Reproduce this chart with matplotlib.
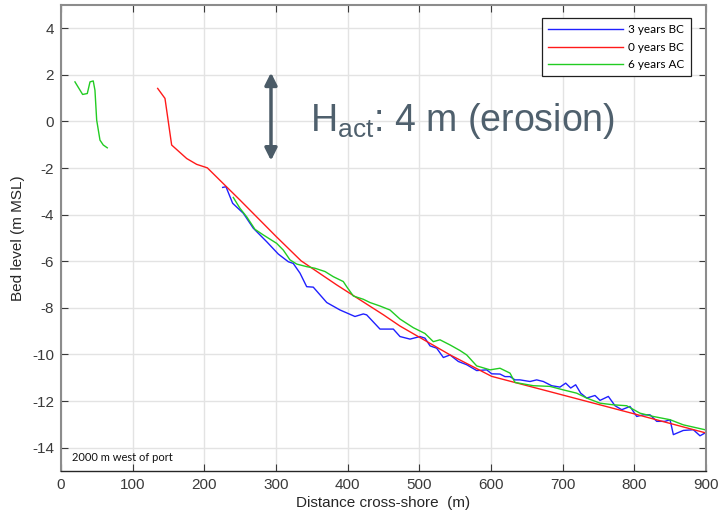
import matplotlib
matplotlib.use("Agg")
import matplotlib.pyplot as plt

plt.rcParams["axes.unicode_minus"] = False

# profile 3 years before construction
bc3_x = [225.6, 230.2, 239.5, 254.4, 268.3, 287.0, 303.2, 317.2, 324.0, 333.5,
         342.8, 352.0, 370.8, 389.3, 410.2, 421.8, 426.5, 445.1, 463.7, 473.0,
         487.0, 500.9, 507.9, 514.9, 524.2, 533.5, 542.8, 554.4, 566.1, 580.0,
         594.0, 601.0, 612.5, 619.5, 626.5, 633.5, 640.4, 654.4, 663.7, 673.0,
         684.6, 696.2, 704.2, 711.2, 718.1, 725.1, 733.5, 745.1, 752.1, 763.7,
         773.0, 782.4, 793.9, 803.3, 812.5, 821.9, 831.2, 842.8, 849.8, 854.4,
         868.3, 882.3, 891.6, 898.6]
bc3_z = [-2.83, -2.80, -3.51, -3.94, -4.58, -5.16, -5.69, -6.02, -6.09, -6.51,
         -7.09, -7.11, -7.77, -8.09, -8.37, -8.26, -8.30, -8.91, -8.91, -9.23,
         -9.34, -9.23, -9.30, -9.63, -9.73, -10.13, -10.02, -10.30, -10.44, -10.69,
         -10.66, -10.83, -10.84, -10.95, -10.95, -11.09, -11.09, -11.16, -11.09, -11.16,
         -11.34, -11.40, -11.23, -11.44, -11.30, -11.66, -11.87, -11.76, -11.97, -11.80,
         -12.20, -12.37, -12.23, -12.66, -12.59, -12.59, -12.87, -12.87, -12.80, -13.44,
         -13.26, -13.23, -13.49, -13.37]

# profile at construction
bc0_x = [134.9, 145.1, 154.4, 175.4, 189.3, 204.2, 250.0, 300.0, 335.0, 360.0,
         385.0, 450.0, 473.0, 543.0, 601.0, 700.0, 800.0, 900.0]
bc0_z = [1.42, 0.99, -1.01, -1.59, -1.84, -1.99, -3.38, -4.93, -5.98, -6.50,
         -7.02, -8.30, -8.78, -10.02, -10.94, -11.74, -12.55, -13.37]

# profile 6 years after construction (dune + shoreface)
ac6_dune_x = [19.5, 30.2, 36.7, 40.5, 45.0, 47.4, 49.8, 54.4, 59.0, 64.6]
ac6_dune_z = [1.70, 1.16, 1.20, 1.70, 1.74, 1.34, 0.06, -0.80, -1.01, -1.13]
ac6_x = [240.4, 249.8, 259.1, 270.7, 282.3, 300.9, 310.2, 319.5, 328.9, 342.8,
         354.4, 368.4, 379.9, 393.9, 398.6, 407.9, 421.8, 431.1, 445.1, 459.0,
         473.0, 491.6, 507.9, 519.5, 528.8, 542.8, 556.7, 566.1, 580.0, 598.6,
         612.5, 626.5, 633.5, 659.0, 682.3, 700.9, 719.5, 733.5, 752.1, 770.6,
         789.3, 807.9, 826.4, 849.8, 868.3, 898.6]
ac6_z = [-3.26, -3.73, -4.09, -4.63, -4.87, -5.23, -5.52, -5.94, -6.12, -6.23,
         -6.30, -6.44, -6.66, -6.87, -7.09, -7.49, -7.63, -7.77, -7.92, -8.09,
         -8.48, -8.85, -9.10, -9.45, -9.37, -9.59, -9.83, -10.02, -10.49, -10.66,
         -10.59, -10.80, -11.20, -11.34, -11.37, -11.52, -11.66, -11.87, -12.09, -12.16,
         -12.20, -12.52, -12.66, -12.80, -13.02, -13.23]

x_ticks = list(range(0, 901, 100))
y_ticks = list(range(-14, 5, 2))

fig = plt.figure(figsize=(7.2, 5.14), dpi=100)
ax = fig.add_axes([0.0847, 0.0837, 0.8959, 0.9066])

ax.plot(bc3_x, bc3_z, color="#2020ff", lw=1.0, label="3 years BC")
ax.plot(bc0_x, bc0_z, color="#ff1a1a", lw=1.0, label="0 years BC")
ax.plot(ac6_x, ac6_z, color="#22cc22", lw=1.0, label="6 years AC")
ax.plot(ac6_dune_x, ac6_dune_z, color="#22cc22", lw=1.0)

ax.set_xlim(0, 900)
ax.set_ylim(-15, 5)
ax.set_xticks(x_ticks)
ax.set_yticks(y_ticks)
ax.grid(True, color="#e3e3e3", lw=1.0)
ax.set_axisbelow(True)
ax.tick_params(direction="in", length=5, top=True, right=True,
               labelsize=11, colors="#3a3a3a", width=0.8, pad=5)
for lab in ax.get_xticklabels() + ax.get_yticklabels():
    lab.set_fontfamily("Liberation Sans")

for side in ["left", "top", "right"]:
    ax.spines[side].set_color("#8c8c8c")
    ax.spines[side].set_linewidth(1.5)
ax.spines["bottom"].set_color("#262626")
ax.spines["bottom"].set_linewidth(1.0)

ax.set_xlabel("Distance cross-shore  (m)", fontsize=11, family="Liberation Sans",
              color="#262626", labelpad=3)
ax.set_ylabel("Bed level (m MSL)", fontsize=11, family="Liberation Sans",
              color="#262626", labelpad=5)

leg = ax.legend(loc="upper right", bbox_to_anchor=(0.9815, 0.979),
                prop={"family": "Lato", "size": 8.5}, fancybox=False,
                edgecolor="#202020", framealpha=1, handlelength=6.3,
                borderpad=0.5, labelspacing=0.55, handletextpad=0.5,
                borderaxespad=0.3)
leg.get_frame().set_linewidth(0.9)

# active height marker
ax.annotate("", xy=(293, 2.1), xytext=(293, -1.68),
            arrowprops=dict(arrowstyle="<|-|>", color="#4b5b67", lw=2.5,
                            mutation_scale=18, shrinkA=0, shrinkB=0))
ax.text(347, -0.42, r"$\mathregular{H_{act}}$: 4 m (erosion)", fontsize=27,
        family="Liberation Sans", color="#4f606d", va="baseline")

ax.text(15, -14.56, "2000 m west of port", fontsize=8, family="Lato",
        color="#111111", va="baseline")

fig.savefig("out.png", dpi=100)
